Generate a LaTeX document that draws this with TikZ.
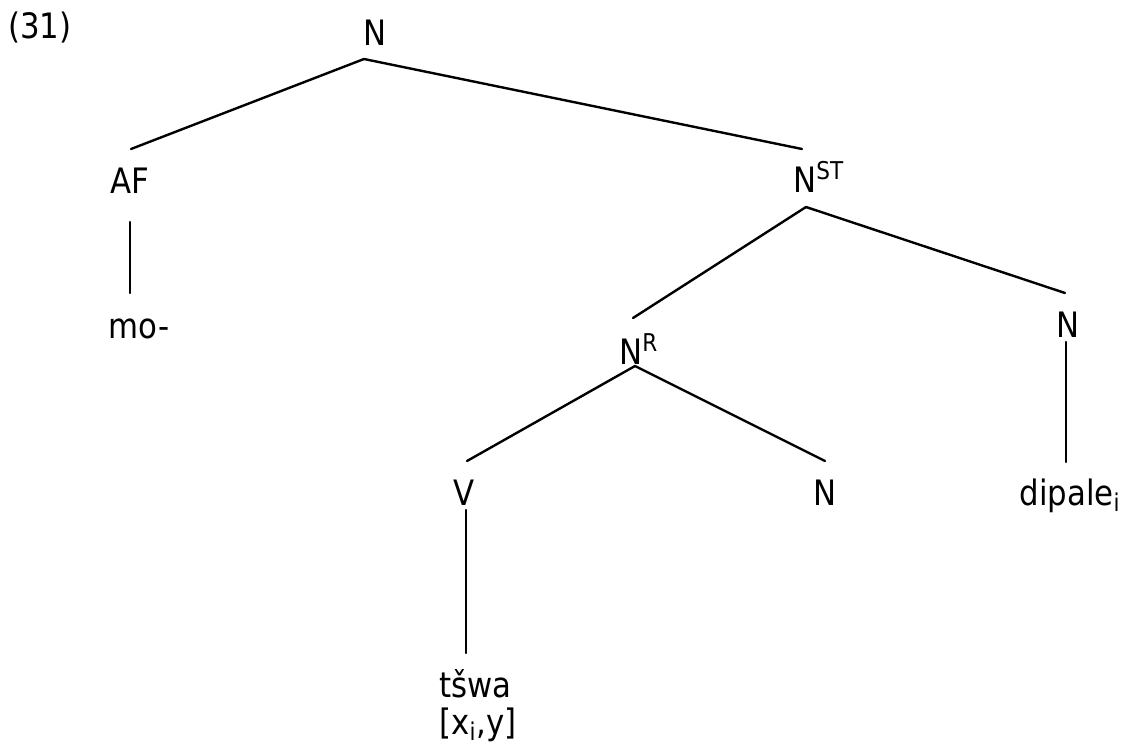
\documentclass[tikz,border=0pt]{standalone}
\usepackage{fontspec}
\setmainfont{DejaVu Sans}[FakeStretch=0.88]
\usepackage{tikz}
\tikzset{
  cat/.style={inner sep=0pt, anchor=base, font=\fontsize{17.5}{21}\selectfont},
  catw/.style={cat, anchor=base west},
  cate/.style={cat, anchor=base east},
  branch/.style={line width=1.2pt, line cap=round},
}

\begin{document}
\begin{tikzpicture}[x=0.5pt, y=-0.5pt]
    \useasboundingbox (0,0) rectangle (1124,744);
    % example number
    \node[cat] (nNum) at (40,39) {(31)};
    % top
    \node[cat] (nTop) at (375,46) {N};
    \node[cat] (nAF) at (130,193) {AF};
    \node[cat] (nMo) at (139,338) {mo-};
    \node[catw] (nST) at (793,192) {N\textsuperscript{ST}};
    \draw[branch] ([shift={(-11,13)}]nTop.base) -- ([shift={(1,-44)}]nAF.base);
    \draw[branch] ([shift={(-11,13)}]nTop.base) -- ([shift={(9,-43)}]nST.base west);
    \draw[branch] ([shift={(0,29)}]nAF.base) -- ([shift={(-9,-45)}]nMo.base);
    % stem
    \node[catw] (nR) at (619,364) {N\textsuperscript{R}};
    \node[cat] (nRight) at (1068,337) {N};
    \node[cate] (nDip) at (1121,505) {dipale\textsubscript{i}};
    \draw[branch] ([shift={(13,15)}]nST.base west) -- ([shift={(14,-46)}]nR.base west);
    \draw[branch] ([shift={(13,15)}]nST.base west) -- ([shift={(-3,-44)}]nRight.base);
    \draw[branch] ([shift={(-2,5)}]nRight.base) -- ([shift={(-55,-43)}]nDip.base east);
    % root
    \node[cat] (nV) at (464,505) {V};
    \node[cat] (nMid) at (825,505) {N};
    \node[catw] (nTsw) at (439,697) {tšwa};
    \node[catw] (nArg) at (439,734) {[x\textsubscript{i},y]};
    \draw[branch] ([shift={(16,2)}]nR.base west) -- ([shift={(3,-44)}]nV.base);
    \draw[branch] ([shift={(16,2)}]nR.base west) -- ([shift={(0,-44)}]nMid.base);
    \draw[branch] ([shift={(2,5)}]nV.base) -- ([shift={(27,-44)}]nTsw.base west);
  \end{tikzpicture}
\end{document}
